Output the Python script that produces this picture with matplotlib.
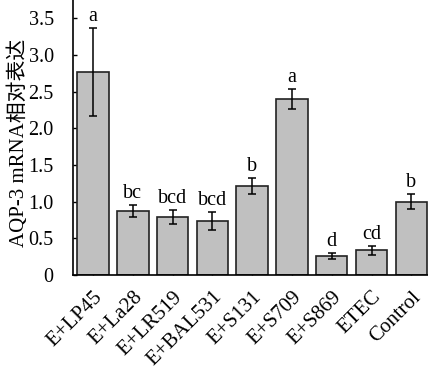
import matplotlib
matplotlib.use("Agg")
from matplotlib import pyplot as plt

# data
groups = ["E+LP45", "E+La28", "E+LR519", "E+BAL531", "E+S131",
          "E+S709", "E+S869", "ETEC", "Control"]
means = [2.77, 0.87, 0.79, 0.74, 1.21, 2.40, 0.26, 0.34, 1.00]
errs = [0.60, 0.08, 0.10, 0.12, 0.11, 0.14, 0.04, 0.06, 0.10]
letters = ["a", "bc", "bcd", "bcd", "b", "a", "d", "cd", "b"]
yticks = [0, 0.5, 1.0, 1.5, 2.0, 2.5, 3.0, 3.5]
ytick_labels = ["0", "0.5", "1.0", "1.5", "2.0", "2.5", "3.0", "3.5"]

plt.rcParams["font.family"] = ["Liberation Serif", "Noto Sans CJK SC"]

fig = plt.figure(figsize=(4.28, 3.82), dpi=100)
ax = fig.add_axes([0.171, 0.28, 0.829, 0.72])

x = range(len(groups))
ax.bar(x, means, width=0.79, color="#c0c0c0", edgecolor="#222222",
       linewidth=1.2, zorder=2)
ax.errorbar(x, means, yerr=errs, fmt="none", ecolor="black",
            elinewidth=1.1, capsize=3, capthick=1.1, zorder=3)

# significance letters above the error bars
for i, (m, e, t) in enumerate(zip(means, errs, letters)):
    ax.text(i, m + e + 0.03, t, ha="center", va="bottom", fontsize=14.5)

ax.set_xlim(-0.5, 8.42)
ax.set_ylim(0, 3.75)
ax.set_yticks(yticks)
ax.set_yticklabels(ytick_labels, fontsize=14.5)
ax.set_xticks(list(x))
ax.set_xticklabels(groups, rotation=45, ha="right", rotation_mode="anchor",
                   fontsize=15)
ax.tick_params(axis="x", direction="in", length=4, width=1, pad=9)
ax.tick_params(axis="y", direction="in", length=3, width=1, pad=14)

ax.set_ylabel("AQP-3 mRNA相对表达", fontsize=15)
ax.yaxis.set_label_coords(-0.125, 0.48)

for s in ["top", "right"]:
    ax.spines[s].set_visible(False)
for s in ["left", "bottom"]:
    ax.spines[s].set_linewidth(1.2)

fig.savefig("out.png", dpi=100)
